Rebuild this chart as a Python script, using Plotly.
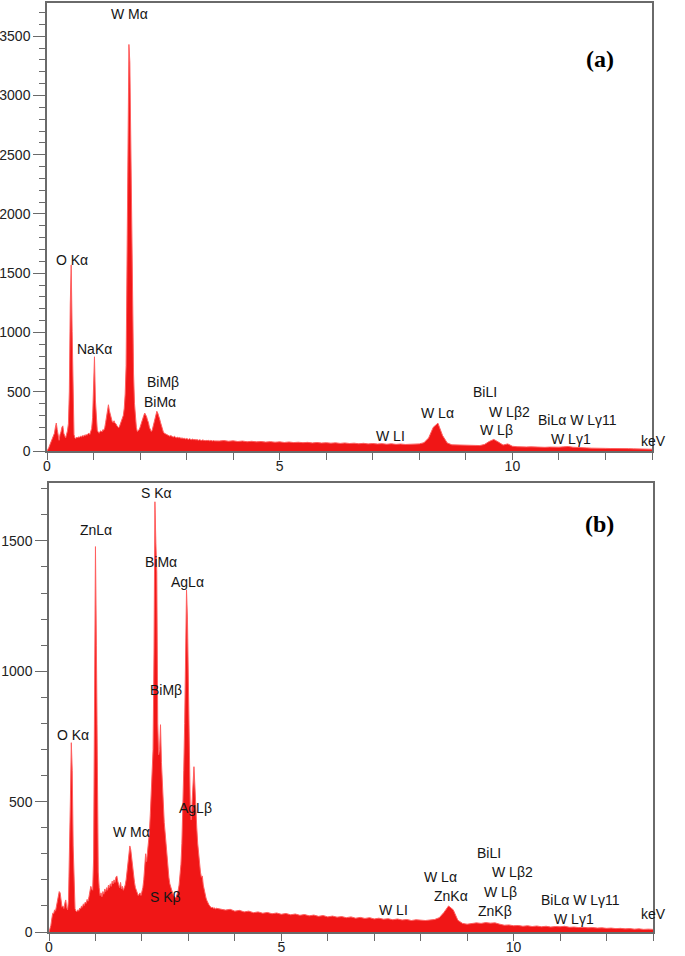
import numpy as np
import plotly.graph_objects as go

# ---------------- data (counts) ----------------
# channels 0.00 .. 3.60 keV, step 0.02 keV
a_low = [0,10,30,50,70,85,100,120,150,200,
         236,180,110,90,140,160,200,212,150,120,
         110,140,170,230,500,1240,1570,1010,310,140,
         110,105,118,110,120,115,125,118,130,122,
         135,128,140,132,145,150,140,165,190,280,
         650,795,430,230,175,160,150,165,170,160,
         180,175,195,240,300,370,390,340,300,280,
         250,240,255,235,230,215,200,195,210,230,
         250,270,300,360,480,720,1450,2560,3430,3280,
         2620,1860,1160,650,400,270,200,165,170,180,
         200,230,250,270,300,320,310,290,260,240,
         200,180,165,175,210,250,290,320,335,320,
         300,270,240,210,180,160,150,145,138,135,
         130,128,125,130,122,120,118,125,115,112,
         118,110,115,108,112,105,110,104,108,100,
         106,102,98,104,99,95,101,97,94,99,
         92,96,93,90,95,91,88,93,89,92,
         87,90,86,91,88,85,89,86,84,88,
         85]
# channels 3.7 .. 13.0 keV, step 0.1 keV
a_tail = [84,88,82,86,80,84,78,82,77,80,
          75,79,74,77,72,76,71,74,70,73,
          68,72,67,70,66,69,64,68,63,66,
          61,65,60,63,59,62,57,61,56,59,
          55,58,56,60,70,110,200,235,130,68,
          52,50,47,49,45,47,46,55,80,98,
          75,50,60,40,36,38,34,35,32,34,
          31,33,30,32,35,38,32,28,27,26,
          24,25,23,22,21,22,20,19,20,18,
          17,17,16,15]

b_low = [0,10,25,50,72,70,85,80,100,120,
         140,155,150,110,95,100,90,110,123,95,
         85,120,260,500,726,620,330,150,90,80,
         78,85,80,92,88,100,95,108,102,115,
         110,125,118,135,150,175,165,160,280,780,
         1478,1100,480,230,170,140,150,135,155,145,
         165,155,170,160,180,170,185,175,195,185,
         200,190,210,215,195,185,170,190,165,175,
         160,170,180,200,230,260,300,330,315,280,
         250,220,190,170,160,150,140,145,150,140,
         155,170,200,260,300,270,310,330,380,450,
         560,620,700,1070,1650,1490,1380,800,680,700,
         795,650,560,470,420,380,330,300,250,210,
         185,170,160,150,140,135,130,135,145,160,
         180,210,260,340,450,620,800,1050,1312,1200,
         900,700,480,430,520,580,634,560,450,400,
         340,290,250,230,210,215,180,160,140,130,
         120,110,105,100,95,92,96,90,93,88,
         91]
b_tail = [88,84,87,80,83,77,80,74,77,72,
          75,70,73,68,71,66,69,64,67,62,
          65,60,63,58,61,57,59,55,58,53,
          56,52,55,50,53,49,51,47,50,46,
          48,44,47,45,44,46,48,55,75,100,
          85,45,33,30,32,35,33,36,34,35,
          30,26,27,24,25,22,24,21,23,20,
          22,19,21,20,22,18,19,17,18,16,
          17,15,16,14,15,13,14,12,13,11,
          12,10,11,10]

# peak labels: (text, keV, counts)
labels_a = [("W Mα", 1.77, 3690), ("O Kα", 0.54, 1615), ("NaKα", 1.03, 860),
            ("BiMβ", 2.50, 585), ("BiMα", 2.43, 416), ("W LI", 7.38, 127),
            ("W Lα", 8.39, 318), ("BiLI", 9.42, 495), ("W Lβ2", 9.94, 332),
            ("W Lβ", 9.66, 177), ("BiLα W Lγ11", 11.40, 262), ("W Lγ1", 11.25, 99)]
labels_b = [("S Kα", 2.31, 1684), ("ZnLα", 1.01, 1542), ("BiMα", 2.42, 1418),
            ("AgLα", 2.98, 1344), ("BiMβ", 2.51, 927), ("O Kα", 0.51, 756),
            ("W Mα", 1.77, 385), ("AgLβ", 3.16, 474), ("S Kβ", 2.50, 135),
            ("W LI", 7.41, 84), ("W Lα", 8.42, 212), ("ZnKα", 8.66, 138),
            ("BiLI", 9.46, 302), ("W Lβ2", 9.98, 229), ("W Lβ", 9.72, 155),
            ("ZnKβ", 9.60, 81), ("BiLα W Lγ11", 11.45, 123), ("W Lγ1", 11.30, 50)]

def energies(low, tail):
    e_low = np.round(np.arange(len(low)) * 0.02, 2)
    e_tail = np.round(3.7 + np.arange(len(tail)) * 0.1, 1)
    return np.concatenate([e_low, e_tail]), np.array(low + tail)

xa, ya = energies(a_low, a_tail)
xb, yb = energies(b_low, b_tail)

W, H = 685, 956
FONT = "Arial, Liberation Sans, sans-serif"
fill_c = "rgb(240,22,22)"
line_c = "rgb(255,95,95)"
axis_c = "#6a6a6a"

fig = go.Figure()
fig.add_trace(go.Scatter(x=xa, y=ya, mode="lines", fill="tozeroy", fillcolor=fill_c,
                         line=dict(color=line_c, width=1), xaxis="x", yaxis="y",
                         showlegend=False, hoverinfo="skip"))
fig.add_trace(go.Scatter(x=xb, y=yb, mode="lines", fill="tozeroy", fillcolor=fill_c,
                         line=dict(color=line_c, width=1), xaxis="x2", yaxis="y2",
                         showlegend=False, hoverinfo="skip"))

def xax(domain, anchor):
    return dict(domain=domain, anchor=anchor, range=[0, 13], dtick=5, tick0=0,
                ticks="outside", ticklen=7, tickwidth=1.3, tickcolor=axis_c,
                minor=dict(dtick=1, ticklen=7, tickwidth=1.3, tickcolor=axis_c, ticks="outside"),
                showline=True, linecolor=axis_c, linewidth=1.5, mirror=True,
                showgrid=False, zeroline=False, automargin=False,
                ticklabelstandoff=-6,
                tickfont=dict(family=FONT, size=14, color="#222"))

def yax(domain, anchor, top):
    return dict(domain=domain, anchor=anchor, range=[0, top], dtick=500, tick0=0,
                ticks="outside", ticklen=12, tickwidth=1.3, tickcolor=axis_c,
                minor=dict(dtick=100, ticklen=6, tickwidth=1.3, tickcolor=axis_c, ticks="outside"),
                showline=True, linecolor=axis_c, linewidth=1.5, mirror=True,
                showgrid=False, zeroline=False, automargin=False,
                tickfont=dict(family=FONT, size=14, color="#222"))

fig.update_layout(
    width=W, height=H, margin=dict(l=0, r=0, t=0, b=0),
    paper_bgcolor="white", plot_bgcolor="white",
    xaxis=xax([47 / W, 652 / W], "y"),
    yaxis=yax([1 - 451 / H, 1 - 3 / H], "x", 3780),
    xaxis2=xax([49 / W, 653 / W], "y2"),
    yaxis2=yax([1 - 932 / H, 1 - 483 / H], "x2", 1722),
)

anns = []
for t, x, y in labels_a:
    anns.append(dict(text=t, x=x, y=y, xref="x", yref="y", showarrow=False,
                     font=dict(family=FONT, size=14, color="#151515")))
for t, x, y in labels_b:
    anns.append(dict(text=t, x=x, y=y, xref="x2", yref="y2", showarrow=False,
                     font=dict(family=FONT, size=14, color="#151515")))
for py in (441, 924):
    anns.append(dict(text="keV", x=668 / W, y=1 - py / H, xref="paper", yref="paper",
                     showarrow=False, font=dict(family=FONT, size=14, color="#151515")))
for t, py in (("(a)", 44), ("(b)", 524)):
    anns.append(dict(text="<b>" + t + "</b>", x=616 / W, y=1 - py / H, xref="paper", yref="paper",
                     showarrow=False, font=dict(family="Liberation Serif, Times New Roman, serif",
                                                size=24, color="black")))
fig.update_layout(annotations=anns)

fig.write_html("out.html")
